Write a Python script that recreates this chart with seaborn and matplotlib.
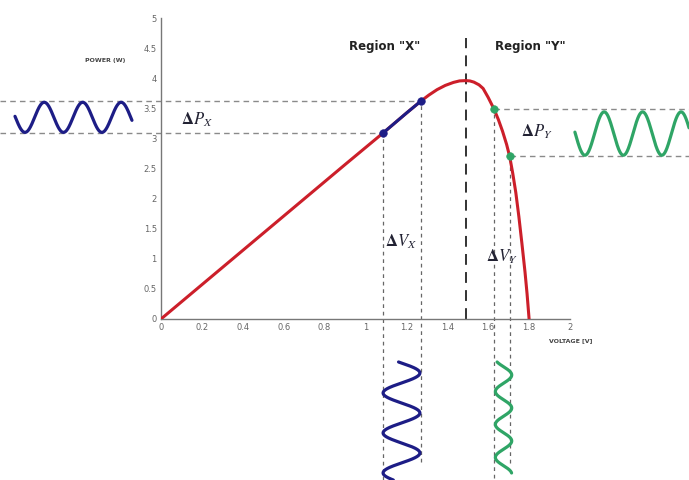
import numpy as np
import pandas as pd
import matplotlib
matplotlib.use("Agg")
import matplotlib.pyplot as plt
import seaborn as sns

# ---- data ----
voltage = [0, 0.3, 0.6, 0.9, 1.086, 1.2, 1.271, 1.31, 1.35, 1.39, 1.43, 1.46, 1.49,
           1.51, 1.53, 1.555, 1.575, 1.60, 1.628, 1.65, 1.67, 1.69, 1.705,
           1.72, 1.735, 1.75, 1.765, 1.78, 1.79, 1.80]
power = [0, 0.855, 1.71, 2.565, 3.09, 3.42, 3.62, 3.72, 3.81, 3.88, 3.93, 3.955, 3.96,
         3.955, 3.935, 3.89, 3.83, 3.68, 3.49, 3.31, 3.12, 2.90, 2.70,
         2.42, 2.10, 1.70, 1.25, 0.78, 0.42, 0]
blue_pts_v = [1.086, 1.271]
blue_pts_p = [3.09, 3.62]
green_pts_v = [1.628, 1.705]
green_pts_p = [3.49, 2.70]
mpp_v = 1.49
x_ticks = [0, 0.2, 0.4, 0.6, 0.8, 1, 1.2, 1.4, 1.6, 1.8, 2]
x_tick_labels = ["0", "0.2", "0.4", "0.6", "0.8", "1", "1.2", "1.4", "1.6", "1.8", "2"]
y_ticks = [0, 0.5, 1, 1.5, 2, 2.5, 3, 3.5, 4, 4.5, 5]
y_tick_labels = ["0", "0.5", "1", "1.5", "2", "2.5", "3", "3.5", "4", "4.5", "5"]

RED = "#cc1f2a"
BLUE = "#1d1d86"
GREEN = "#2fa566"
GRAY = "#8a8a8a"

sns.set_style("white")
plt.rcParams["font.family"] = ["DejaVu Sans"]
plt.rcParams["mathtext.fontset"] = "stix"

fig = plt.figure(figsize=(6.89, 4.80), dpi=100)
ax = fig.add_axes([161 / 689, 161 / 480, 409 / 689, 301 / 480])
ax.set_xlim(0, 2)
ax.set_ylim(0, 5)

# figure-edge limits in data units
XL, XR = (0 - 161) / 204.5, (689 - 161) / 204.5
YB = (319 - 480) / 60.2

df = pd.DataFrame({"V": voltage, "P": power})
sns.lineplot(data=df, x="V", y="P", ax=ax, color=RED, lw=2.2, sort=False, zorder=3)

seg = df[(df.V >= blue_pts_v[0]) & (df.V <= blue_pts_v[1])]
sns.lineplot(data=seg, x="V", y="P", ax=ax, color=BLUE, lw=2.2, sort=False, zorder=4)

sns.scatterplot(x=blue_pts_v, y=blue_pts_p, ax=ax, color=BLUE, s=30, zorder=5, edgecolor=BLUE)
sns.scatterplot(x=green_pts_v, y=green_pts_p, ax=ax, color=GREEN, s=30, zorder=5, edgecolor=GREEN)

dash = dict(color=GRAY, lw=1.0, linestyles=(0, (4, 3)), clip_on=False, zorder=1)
ax.hlines(blue_pts_p[1], XL, blue_pts_v[1], **dash)
ax.hlines(blue_pts_p[0], XL, blue_pts_v[0], **dash)
ax.hlines(green_pts_p[0], green_pts_v[0], XR, **dash)
ax.hlines(green_pts_p[1], green_pts_v[1], XR, **dash)
vdash = dict(color="#666666", lw=0.9, linestyles=(0, (3, 3)), clip_on=False, zorder=1)
ax.vlines(blue_pts_v[0], YB, blue_pts_p[0], **vdash)
ax.vlines(blue_pts_v[1], (319 - 462) / 60.2, blue_pts_p[1], **vdash)
ax.vlines(green_pts_v[0], (319 - 478) / 60.2, green_pts_p[0], **vdash)
ax.vlines(green_pts_v[1], (319 - 463) / 60.2, green_pts_p[1], **vdash)
ax.vlines(mpp_v, 0, 4.67, color="#222222", lw=1.3, linestyles=(0, (6, 4)), zorder=2)

# decorative sine waves (illustrating the oscillations)
t = np.linspace(0, 1, 400)
# left (blue, horizontal)
xs = -0.714 + t * (-0.142 + 0.714)
ax.plot(xs, 3.35 - 0.25 * np.cos(2 * np.pi * (xs + 0.665) / 0.188), color=BLUE, lw=2.3, clip_on=False)
# right (green, horizontal)
xs = 2.024 + t * (XR - 2.024)
ax.plot(xs, 3.08 - 0.36 * np.cos(2 * np.pi * (xs - 2.073) / 0.188), color=GREEN, lw=2.3, clip_on=False)
# bottom blue (vertical)
ys = -0.714 + t * (YB + 0.714)
ax.plot(1.176 + 0.09 * np.cos(2 * np.pi * (ys + 0.897) / 0.664), ys, color=BLUE, lw=2.3, clip_on=False)
# bottom green (vertical)
ys = -0.714 + t * (-2.558 + 0.714)
ax.plot(1.675 + 0.040 * np.cos(2 * np.pi * (ys + 0.930) / 0.548), ys, color=GREEN, lw=2.3, clip_on=False)

# texts
ax.text(1.095, 4.52, 'Region "X"', ha="center", va="center", fontsize=8.5, fontweight="bold", color="#222222")
ax.text(1.804, 4.52, 'Region "Y"', ha="center", va="center", fontsize=8.5, fontweight="bold", color="#222222")
math_kw = dict(ha="center", va="center", fontsize=12, color="#222233", clip_on=False)
ax.text(0.176, 3.31, r"$\mathbf{\Delta} \boldsymbol{P_X}$", **math_kw)
ax.text(1.839, 3.11, r"$\mathbf{\Delta} \boldsymbol{P_Y}$", **math_kw)
ax.text(1.174, 1.28, r"$\mathbf{\Delta} \boldsymbol{V_X}$", **math_kw)
ax.text(1.667, 1.03, r"$\mathbf{\Delta} \boldsymbol{V_Y}$", **math_kw)
ax.text(-0.274, 4.30, "POWER (W)", ha="center", va="center", fontsize=4.5, fontweight="bold", color="#444444")
ax.text(2.005, -0.36, "VOLTAGE [V]", ha="center", va="center", fontsize=4.5, fontweight="bold", color="#444444")

# axes styling
for s in ["top", "right"]:
    ax.spines[s].set_visible(False)
for s in ["left", "bottom"]:
    ax.spines[s].set_color("#777777")
    ax.spines[s].set_linewidth(1.0)
ax.set_xticks(x_ticks)
ax.set_xticklabels(x_tick_labels)
ax.set_yticks(y_ticks)
ax.set_yticklabels(y_tick_labels)
ax.tick_params(direction="inout", length=4, width=0.8, color="#777777", labelsize=6,
               labelcolor="#666666", pad=1)
ax.set_xlabel("")
ax.set_ylabel("")
ax.patch.set_alpha(0)

fig.savefig("out.png", dpi=100)
